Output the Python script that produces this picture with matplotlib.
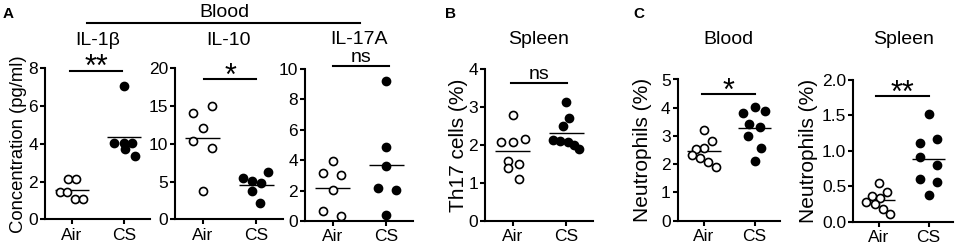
import numpy as np
import matplotlib
matplotlib.use('Agg')
import matplotlib.pyplot as plt
from matplotlib.lines import Line2D

plt.rcParams['font.family'] = ['Liberation Sans', 'DejaVu Sans']
plt.rcParams['font.size'] = 12

W, H = 957, 247
groups = ['Air', 'CS']

# A: blood cytokines (pg/ml)
il1b_air = [2.15, 2.15, 1.45, 1.45, 1.1, 1.1]
il1b_cs = [7.05, 4.05, 4.05, 4.05, 3.75, 3.35]
il10_air = [15.05, 14.05, 12.05, 10.4, 9.5, 3.8]
il10_cs = [5.45, 6.25, 5.05, 4.85, 3.75, 2.1]
il17a_air = [3.95, 3.15, 3.05, 2.05, 0.65, 0.3]
il17a_cs = [9.2, 4.9, 3.6, 2.15, 2.05, 0.4]
# B: spleen Th17 cells (%)
th17_air = [2.78, 2.09, 2.09, 2.15, 1.59, 1.40, 1.51, 1.11]
th17_cs = [3.14, 2.72, 2.51, 2.13, 2.11, 2.07, 2.0, 1.89]
# C: neutrophils (%)
neut_blood_air = [3.2, 2.82, 2.59, 2.53, 2.33, 2.21, 2.09, 1.9]
neut_blood_cs = [4.03, 3.82, 3.89, 3.44, 3.31, 2.99, 2.58, 2.12]
neut_spleen_air = [0.54, 0.42, 0.36, 0.33, 0.27, 0.25, 0.18, 0.11]
neut_spleen_cs = [1.52, 1.11, 1.16, 0.91, 0.80, 0.60, 0.56, 0.38]

# horizontal scatter of the dots (as plotted in the original)
il1b_air_dx = [-0.08, 0.08, -0.24, -0.1, 0.06, 0.21]
il1b_cs_dx = [0, -0.2, 0, 0.15, 0.02, 0.21]
il10_air_dx = [0.17, -0.18, 0, -0.18, 0.17, 0]
il10_cs_dx = [-0.24, 0.22, -0.08, 0.08, -0.08, 0.07]
il17a_air_dx = [0, -0.18, 0.16, 0, -0.18, 0.16]
il17a_cs_dx = [0, 0, 0, -0.16, 0.18, 0]
th17_air_dx = [0, -0.22, 0, 0.22, -0.09, -0.09, 0.11, 0.11]
th17_cs_dx = [0, 0.06, -0.06, -0.25, -0.11, 0.03, 0.14, 0.24]
neut_blood_air_dx = [0, 0.16, 0, -0.15, -0.24, -0.08, 0.08, 0.23]
neut_blood_cs_dx = [0, -0.23, 0.2, -0.11, 0.1, -0.14, 0.12, 0]
neut_spleen_air_dx = [0, 0.17, -0.15, 0.02, -0.27, -0.09, 0.08, 0.23]
neut_spleen_cs_dx = [0, -0.17, 0.17, -0.17, 0.17, -0.17, 0.17, 0]

panels = [
    dict(air=il1b_air, cs=il1b_cs, dxa=il1b_air_dx, dxc=il1b_cs_dx,
         yt=[0, 2, 4, 6, 8], fmt='{:g}', sig='**', sy=7.87, sx=(-0.03, 0.97),
         box=(45, 68.3, 150, 219.3)),
    dict(air=il10_air, cs=il10_cs, dxa=il10_air_dx, dxc=il10_cs_dx,
         yt=[0, 5, 10, 15, 20], fmt='{:g}', sig='*', sy=18.6, sx=(0.02, 1.0),
         box=(175, 68.3, 283, 219.3)),
    dict(air=il17a_air, cs=il17a_cs, dxa=il17a_air_dx, dxc=il17a_cs_dx,
         yt=[0, 2, 4, 6, 8, 10], fmt='{:g}', sig='ns', sy=10.2, sx=(0, 1.06),
         box=(305, 69, 413, 221)),
    dict(air=th17_air, cs=th17_cs, dxa=th17_air_dx, dxc=th17_cs_dx,
         yt=[0, 1, 2, 3, 4], fmt='{:g}', sig='ns', sy=3.62, sx=(-0.04, 1.02),
         box=(485, 69, 593, 221)),
    dict(air=neut_blood_air, cs=neut_blood_cs, dxa=neut_blood_air_dx, dxc=neut_blood_cs_dx,
         yt=[0, 1, 2, 3, 4, 5], fmt='{:g}', sig='*', sy=4.47, sx=(-0.03, 1.0),
         box=(677.5, 79.5, 780, 220.7)),
    dict(air=neut_spleen_air, cs=neut_spleen_cs, dxa=neut_spleen_air_dx, dxc=neut_spleen_cs_dx,
         yt=[0, 0.5, 1.0, 1.5, 2.0], fmt='{:.1f}', sig='**', sy=1.775, sx=(-0.07, 1.0),
         box=(853.3, 80, 953.3, 221.5)),
]
ylabels = ['Concentration (pg/ml)', None, None, 'Th17 cells (%)', 'Neutrophils (%)', 'Neutrophils (%)']
ylabel_x = [19, None, None, 458, 643, 808]
ylabel_size = [13.3, None, None, 15, 15, 15]
titles = ['IL-1\u03b2', 'IL-10', 'IL-17A', 'Spleen', 'Blood', 'Spleen']
title_y = [45, 45, 43.5, 43.5, 43.5, 43.5]

fig = plt.figure(figsize=(W / 100, H / 100), dpi=100)


def fx(px):
    return px / W


def fy(py):
    return 1 - py / H


for i, p in enumerate(panels):
    l, t, r, b = p['box']
    ax = fig.add_axes([fx(l), fy(b), (r - l) / W, (b - t) / H])
    for k, (vals, dx) in enumerate([(p['air'], p['dxa']), (p['cs'], p['dxc'])]):
        x = k + np.array(dx)
        face = 'white' if k == 0 else 'black'
        ax.plot(x, vals, 'o', ms=5.8, mfc=face, mec='black', mew=1.2, clip_on=False, zorder=3)
        m = np.mean(vals)
        ax.hlines(m, k - 0.33, k + 0.33, color='black', lw=1, zorder=2)
    ax.set_xlim(-0.52, 1.5)
    ax.set_ylim(p['yt'][0], p['yt'][-1])
    ax.set_xticks([0, 1])
    ax.set_xticklabels(groups)
    ax.set_yticks(p['yt'])
    ax.set_yticklabels([p['fmt'].format(v) for v in p['yt']])
    for s in ['top', 'right']:
        ax.spines[s].set_visible(False)
    for s in ['left', 'bottom']:
        ax.spines[s].set_linewidth(1.5)
    ax.tick_params(axis='y', length=3.5, width=1.5, pad=1.5, labelsize=12.5)
    ax.tick_params(axis='x', length=3.5, width=1.5, pad=2.5, labelsize=12.5)

    x0, x1 = p['sx']
    ax.plot([x0, x1], [p['sy'], p['sy']], color='black', lw=1.5, clip_on=False)
    xm = (x0 + x1) / 2
    if p['sig'] == 'ns':
        ax.annotate('ns', (xm, p['sy']), xytext=(0, 3), textcoords='offset points',
                    ha='center', va='baseline', fontsize=14, annotation_clip=False)
    else:
        ax.annotate(p['sig'], (xm, p['sy']), xytext=(0, -4), textcoords='offset points',
                    ha='center', va='baseline', fontsize=22, annotation_clip=False)

    if ylabels[i]:
        ax.set_ylabel(ylabels[i], fontsize=ylabel_size[i], va='center')
        ax.yaxis.set_label_coords((ylabel_x[i] - l) / (r - l), 0.5)

    fig.text(fx((l + r) / 2), fy(title_y[i]), titles[i], ha='center', va='baseline', fontsize=14)

# "Blood" header over the three cytokine panels
fig.text(fx(224), fy(16.7), 'Blood', ha='center', va='baseline', fontsize=14)
fig.add_artist(Line2D([fx(87), fx(360)], [fy(23.3), fy(23.3)], color='black', lw=1.5))

# panel letters
for letter, px in [('A', 3), ('B', 445), ('C', 633)]:
    fig.text(fx(px), fy(17.5), letter, ha='left', va='baseline', fontsize=11, fontweight='bold')

fig.savefig('out.png', dpi=100)
